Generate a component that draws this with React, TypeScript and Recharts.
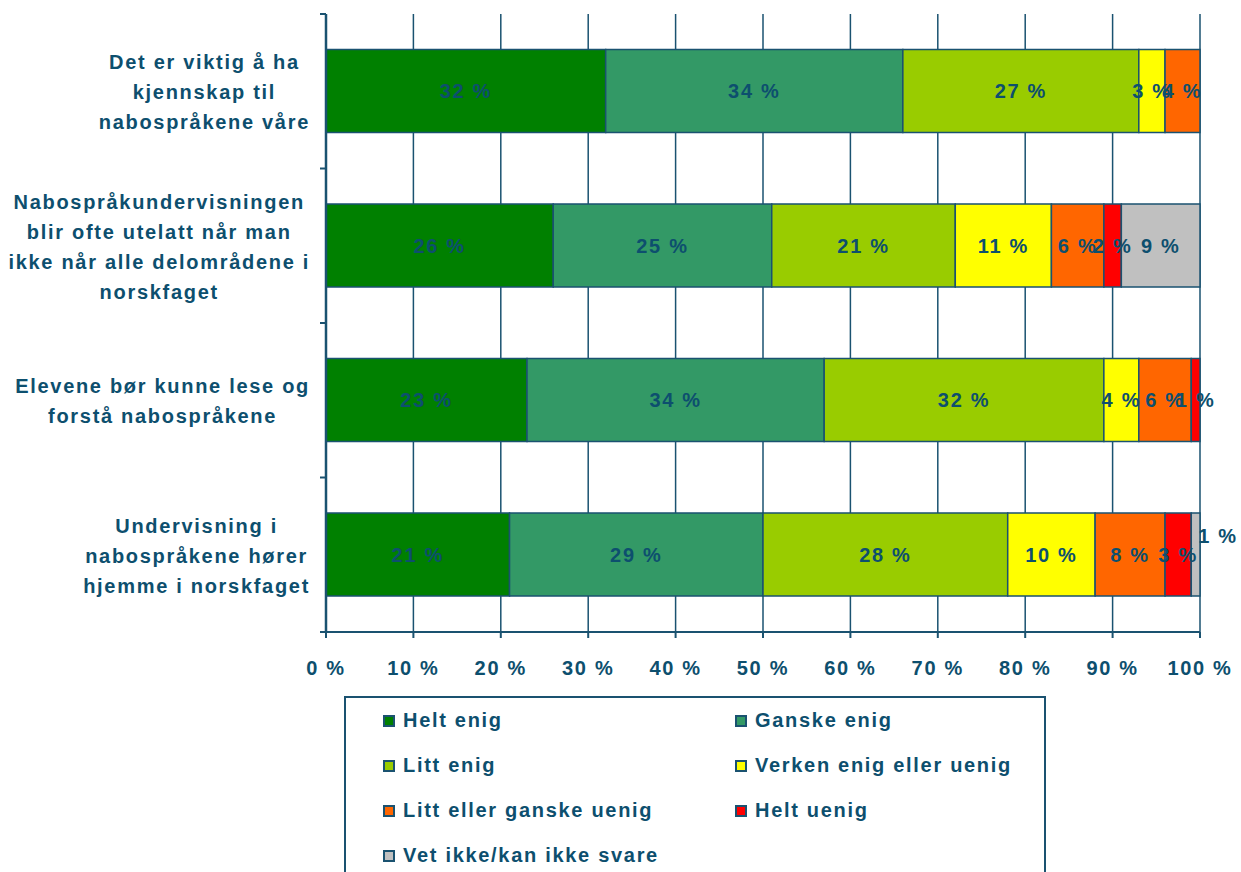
import { BarChart, Bar, XAxis, YAxis, CartesianGrid, Legend, LabelList } from 'recharts'

const categories = [
  'Det er viktig å ha\nkjennskap til\nnabospråkene våre',
  'Nabospråkundervisningen\nblir ofte utelatt når man\nikke når alle delområdene i\nnorskfaget',
  'Elevene bør kunne lese og\nforstå nabospråkene',
  'Undervisning i\nnabospråkene hører\nhjemme i norskfaget',
]

const heltEnig = [32, 26, 23, 21]
const ganskeEnig = [34, 25, 34, 29]
const littEnig = [27, 21, 32, 28]
const verken = [3, 11, 4, 10]
const littUenig = [4, 6, 6, 8]
const heltUenig = [null, 2, 1, 3]
const vetIkke = [null, 9, null, 1]

const xTicks = [0, 10, 20, 30, 40, 50, 60, 70, 80, 90, 100]

const SERIES = [
  { key: 'heltEnig', name: 'Helt enig', color: '#008000', values: heltEnig },
  { key: 'ganskeEnig', name: 'Ganske enig', color: '#339966', values: ganskeEnig },
  { key: 'littEnig', name: 'Litt enig', color: '#99cc00', values: littEnig },
  { key: 'verken', name: 'Verken enig eller uenig', color: '#ffff00', values: verken },
  { key: 'littUenig', name: 'Litt eller ganske uenig', color: '#ff6600', values: littUenig },
  { key: 'heltUenig', name: 'Helt uenig', color: '#ff0000', values: heltUenig },
  { key: 'vetIkke', name: 'Vet ikke/kan ikke svare', color: '#c0c0c0', values: vetIkke },
]

const data = categories.map((c, i) => {
  const row: Record<string, string | number | null> = { category: c }
  SERIES.forEach(s => { row[s.key] = s.values[i] })
  return row
})

const INK = '#0d4f6e'
const LINE = '#1a5270'
const FONT = '"Liberation Sans", Arial, sans-serif'
const SPACING = 1.7

const W = 1241
const H = 872
const MARGIN = { top: 14, right: 41, bottom: 190, left: 0 }
const Y_WIDTH = 326
const X_HEIGHT = 50
const BAND = (H - MARGIN.top - MARGIN.bottom - X_HEIGHT) / categories.length

let ctx: CanvasRenderingContext2D | null = null
function textWidth(s: string) {
  if (!ctx) ctx = document.createElement('canvas').getContext('2d')
  if (!ctx) return s.length * 12.5
  ctx.font = `bold 20px ${FONT}`
  return ctx.measureText(s).width + s.length * SPACING
}

// category labels are centred blocks, right-aligned against the axis;
// tick marks sit between categories like in Excel
function CategoryTick(props: any) {
  const { x, y, payload, index } = props
  const lines = String(payload.value).split('\n')
  const w = Math.max(...lines.map(textWidth))
  const cx = x - w / 2
  const axisX = x + 16
  const start = y + 1 - ((lines.length - 1) * 30) / 2
  return (
    <g>
      <line x1={axisX - 6} x2={axisX} y1={y - BAND / 2} y2={y - BAND / 2} stroke={LINE} strokeWidth={2} />
      {index === categories.length - 1 && (
        <line x1={axisX - 6} x2={axisX} y1={y + BAND / 2} y2={y + BAND / 2} stroke={LINE} strokeWidth={2} />
      )}
      <text textAnchor="middle" fill={INK} fontFamily={FONT} fontWeight="bold" fontSize={20} letterSpacing={SPACING}>
        {lines.map((l, i) => (
          <tspan key={i} x={cx} y={start + i * 30} dominantBaseline="central">{l}</tspan>
        ))}
      </text>
    </g>
  )
}

function SegmentLabel(props: any) {
  const { x, y, width, height, value, shiftSmall } = props
  if (value == null) return null
  let tx = x + width / 2
  let ty = y + height / 2
  if (shiftSmall && width < 20) {
    tx = x + width + 18
    ty = y + height / 2 - 19
  }
  return (
    <text x={tx} y={ty} textAnchor="middle" dominantBaseline="central" fill={INK}
      fontFamily={FONT} fontWeight="bold" fontSize={20} letterSpacing={SPACING}>
      {`${value} %`}
    </text>
  )
}

function LegendBox() {
  return (
    <div style={{
      boxSizing: 'border-box', width: 702, height: 200, border: `2px solid ${LINE}`,
      background: 'white', display: 'grid', gridTemplateColumns: '352px 348px',
      gridAutoRows: '45px', paddingTop: 0, marginTop: -1,
    }}>
      {SERIES.map(s => (
        <div key={s.key} style={{ display: 'flex', alignItems: 'center', paddingLeft: 37 }}>
          <span style={{ width: 12, height: 12, boxSizing: 'border-box', border: `2px solid ${LINE}`, background: s.color, marginRight: 8 }} />
          <span style={{ color: INK, fontFamily: FONT, fontWeight: 'bold', fontSize: 20, letterSpacing: SPACING }}>{s.name}</span>
        </div>
      ))}
    </div>
  )
}

export default function App() {
  return (
    <div style={{ position: 'absolute', left: 0, top: 0, width: W, height: H, background: 'white' }}>
      <BarChart width={W} height={H} data={data} layout="vertical" margin={MARGIN} barCategoryGap="23%">
        <CartesianGrid horizontal={false} stroke={LINE} strokeWidth={1.5} />
        <XAxis
          type="number"
          domain={[0, 100]}
          ticks={xTicks}
          tickFormatter={(v) => `${v} %`}
          height={X_HEIGHT}
          tickSize={6}
          tickMargin={23}
          axisLine={{ stroke: LINE, strokeWidth: 2 }}
          tickLine={{ stroke: LINE, strokeWidth: 2 }}
          tick={{ fill: INK, fontFamily: FONT, fontWeight: 'bold', fontSize: 20, letterSpacing: SPACING }}
        />
        <XAxis
          xAxisId="top"
          orientation="top"
          type="number"
          domain={[0, 100]}
          height={0}
          tick={false}
          tickLine={false}
          axisLine={{ stroke: LINE, strokeWidth: 2 }}
        />
        <YAxis
          type="category"
          dataKey="category"
          width={Y_WIDTH}
          tickSize={0}
          tickMargin={16}
          axisLine={{ stroke: LINE, strokeWidth: 2.5 }}
          tickLine={false}
          tick={<CategoryTick />}
          interval={0}
        />
        <Legend
          layout="horizontal"
          verticalAlign="middle"
          align="center"
          wrapperStyle={{ left: 344, top: 697, width: 702 }}
          content={() => <LegendBox />}
        />
        {SERIES.map(s => (
          <Bar key={s.key} dataKey={s.key} name={s.name} stackId="a" fill={s.color}
            stroke={LINE} strokeWidth={1.5} isAnimationActive={false}>
            <LabelList dataKey={s.key} content={<SegmentLabel shiftSmall={s.key === 'vetIkke'} />} />
          </Bar>
        ))}
      </BarChart>
    </div>
  )
}
